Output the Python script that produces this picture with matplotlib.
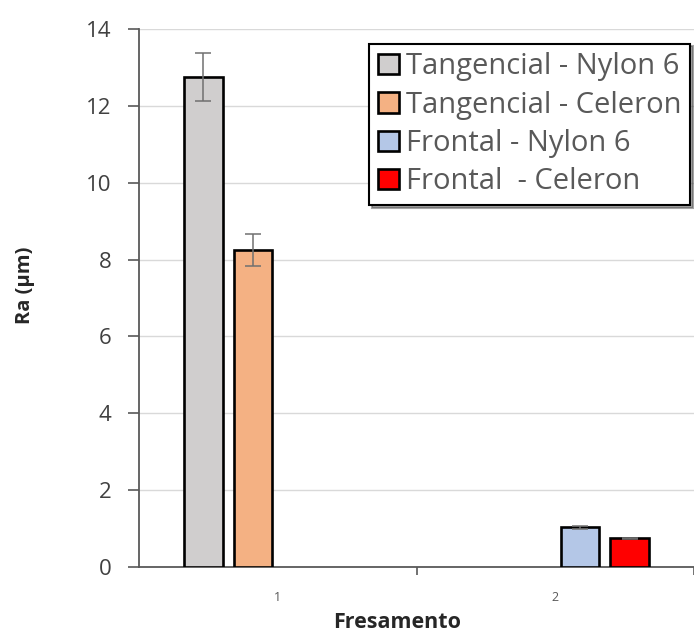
import numpy as np
import matplotlib.pyplot as plt

# Dados (Ra em µm)
categories = [1, 2]
series_names = ['Tangencial - Nylon 6', 'Tangencial - Celeron',
                'Frontal - Nylon 6', 'Frontal  - Celeron']
values = [
    [12.75, np.nan],   # Tangencial - Nylon 6
    [8.25, np.nan],    # Tangencial - Celeron
    [np.nan, 1.03],    # Frontal - Nylon 6
    [np.nan, 0.75],    # Frontal - Celeron
]
errors = [
    [0.62, 0],
    [0.41, 0],
    [0, 0.04],
    [0, 0.01],
]
colors = ['#D0CECE', '#F4B183', '#B4C7E7', '#FF0000']

plt.rcParams['font.family'] = ['Open Sans', 'DejaVu Sans']
text_gray = '#595959'

fig = plt.figure(figsize=(6.94, 6.33), dpi=100)
ax = fig.add_axes([139 / 694, 1 - 567 / 633, 1 - 139 / 694, (567 - 29) / 633])

x = np.arange(len(categories))
width = 0.139
step = 0.179
for i, name in enumerate(series_names):
    pos = x + (i - 1.5) * step
    ax.bar(pos, values[i], width, color=colors[i], edgecolor='black',
           linewidth=1.9, label=name, zorder=3)
    yerr = np.array(errors[i])
    mask = ~np.isnan(np.array(values[i], dtype=float))
    ax.errorbar(pos[mask], np.array(values[i])[mask], yerr=yerr[mask], fmt='none',
                ecolor='#707070', elinewidth=1.1, capsize=6, capthick=1.1, zorder=4)

ax.set_xlim(-0.5, 1.5)
ax.set_ylim(0, 14)
ax.set_yticks(range(0, 15, 2))
ax.yaxis.grid(True, color='#D9D9D9', linewidth=1, zorder=0)
ax.set_axisbelow(True)

ax.set_xticks(x)
ax.set_xticklabels([str(c) for c in categories], fontsize=9, color=text_gray)
ax.set_xticks([0.5, 1.5], minor=True)
ax.tick_params(axis='x', which='major', length=0, pad=17)
ax.tick_params(axis='x', which='minor', length=6, color='#595959', width=1.2)
ax.tick_params(axis='y', length=8, color='#595959', width=1.2, labelsize=16,
               labelcolor='#404040', pad=12)

for s in ['top', 'right']:
    ax.spines[s].set_visible(False)
for s in ['left', 'bottom']:
    ax.spines[s].set_color('#595959')
    ax.spines[s].set_linewidth(1.3)

ax.set_ylabel('Ra (µm)', fontsize=14.5, fontweight='bold', color='#262626')
ax.yaxis.set_label_coords(-0.188, 0.524)
ax.set_xlabel('Fresamento', fontsize=15.5, fontweight='bold', color='#262626')
ax.xaxis.set_label_coords(0.465, -0.083)

leg = ax.legend(loc='upper right', bbox_to_anchor=(0.993, 0.973), fontsize=21,
                frameon=True, fancybox=False, shadow=True, edgecolor='black',
                handlelength=0.7, handleheight=0.7, handletextpad=0.25,
                borderpad=0.3, labelspacing=0.32, borderaxespad=0)
leg.get_frame().set_linewidth(1.5)
for t in leg.get_texts():
    t.set_color(text_gray)

fig.savefig('out.png', dpi=100, facecolor='white')
